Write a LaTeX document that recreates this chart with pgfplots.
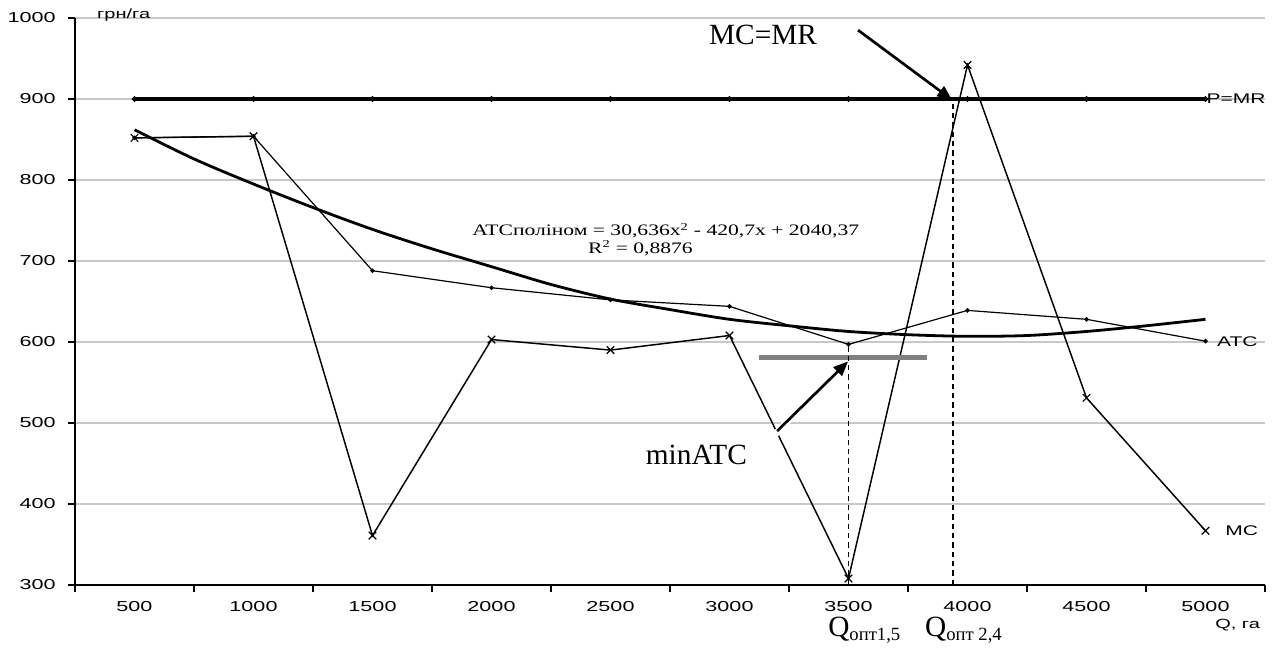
\documentclass[border=0pt]{standalone}
\usepackage{pgfplots}
\pgfplotsset{compat=1.18}
\usepackage{fontspec}
\setmainfont{Liberation Serif}
\newfontfamily\xlfont[FakeStretch=1.5]{Liberation Sans}
\newfontfamily\eqfont[FakeStretch=1.35]{Liberation Serif}
\usetikzlibrary{arrows.meta}

\definecolor{gridgray}{HTML}{C8C8C8}
\definecolor{bargray}{HTML}{808080}

% 1 px of the reference = 0.75pt
\begin{document}
\begin{tikzpicture}
\begin{axis}[
    scale only axis,
    width=892.5pt, height=425.25pt,
    xmin=250, xmax=5250,
    ymin=300, ymax=1000,
    axis x line*=bottom,
    axis y line*=left,
    axis line style={line width=1.4pt},
    xtick={250,750,...,5250},
    xticklabels={500,1000,1500,2000,2500,3000,3500,4000,4500,5000},
    x tick label as interval,
    ytick={300,400,...,1000},
    tick align=outside,
    major tick length=5pt,
    tick style={black, line width=1.2pt},
    ymajorgrids,
    grid style={gridgray, line width=1pt},
    tick label style={font=\xlfont\fontsize{10.8pt}{12pt}\selectfont},
    y tick label style={xshift=-6pt},
    x tick label style={yshift=-4pt},
    /pgf/number format/assume math mode=true,
    /pgf/number format/1000 sep={},
    clip=false,
]
% P=MR
\addplot[black, line width=2.4pt, mark=*, mark size=0.6pt]
    coordinates {(500,900)(1000,900)(1500,900)(2000,900)(2500,900)
                 (3000,900)(3500,900)(4000,900)(4500,900)(5000,900)};
% ATC
\addplot[black, line width=0.9pt, mark=*, mark size=1.2pt]
    coordinates {(500,852)(1000,854)(1500,688)(2000,667)(2500,652)
                 (3000,644)(3500,597)(4000,639)(4500,628)(5000,601)};
% MC
\addplot[black, line width=1.1pt, mark=x, mark size=4pt, mark options={line width=0.9pt}]
    coordinates {(500,852)(1000,854)(1500,361)(2000,603)(2500,590)
                 (3000,608)(3500,308)(4000,942)(4500,531)(5000,367)};
% ATC polynomial trend
\addplot[black, line width=2.1pt, smooth]
    coordinates {(500,862)(750,826)(1000,795)(1250,766)(1500,739)(1750,715)
                 (2000,693)(2250,671)(2500,653)(2750,640)(3000,628)(3250,620)
                 (3500,613)(3750,609)(4000,607)(4250,608)(4500,613)(4750,620)(5000,628)};
% min ATC bar and dashed guides
\addplot[bargray, line width=3.8pt] coordinates {(3124,581)(3830,581)};
\addplot[black, line width=1.2pt, dash pattern=on 4pt off 3pt] coordinates {(3500,300)(3500,597)};
\addplot[black, line width=1.2pt, dash pattern=on 4pt off 3pt] coordinates {(3939,300)(3939,900)};

% arrows
\draw[white, line width=5pt] (axis cs:3180,482) -- (axis cs:3260,508);
\draw[black, line width=2pt, -{Triangle[length=11pt, width=9pt]}] (axis cs:3540,985) -- (axis cs:3935,899);
\draw[black, line width=2pt, -{Triangle[length=11pt, width=9pt]}] (axis cs:3200,490) -- (axis cs:3498,576);

% labels
\node[anchor=base, font=\fontsize{22pt}{24pt}\selectfont, inner sep=0pt] at (axis cs:3141,967) {MC=MR};
\node[anchor=base, font=\fontsize{22pt}{24pt}\selectfont, inner sep=0pt] at (axis cs:2861,449) {minATC};
\node[anchor=base west, font=\eqfont\fontsize{12pt}{14pt}\selectfont, inner sep=0pt] at (axis cs:1918,731)
    {ATCполіном = 30,636x\textsuperscript{2} - 420,7x + 2040,37};
\node[anchor=base west, font=\eqfont\fontsize{12pt}{14pt}\selectfont, inner sep=0pt] at (axis cs:2405,709)
    {R\textsuperscript{2} = 0,8876};
\node[anchor=base west, font=\fontsize{22pt}{24pt}\selectfont, inner sep=0pt] at (axis cs:3414,237)
    {Q{\fontsize{14pt}{16pt}\selectfont\raisebox{-3pt}{опт1,5}}};
\node[anchor=base west, font=\fontsize{22pt}{24pt}\selectfont, inner sep=0pt] at (axis cs:3821,237)
    {Q{\fontsize{14pt}{16pt}\selectfont\raisebox{-3pt}{опт 2,4}}};
\node[anchor=west, font=\xlfont\fontsize{10.5pt}{12pt}\selectfont, inner sep=0pt] at (axis cs:5004,900) {P=MR};
\node[anchor=west, font=\xlfont\fontsize{10.5pt}{12pt}\selectfont, inner sep=0pt] at (axis cs:5048,600) {ATC};
\node[anchor=west, font=\xlfont\fontsize{10.5pt}{12pt}\selectfont, inner sep=0pt] at (axis cs:5082,367) {MC};
\node[anchor=west, font=\xlfont\fontsize{10pt}{12pt}\selectfont, inner sep=0pt] at (axis cs:342,1004) {грн/га};
\node[anchor=east, font=\xlfont\fontsize{10pt}{12pt}\selectfont, inner sep=0pt] at (axis cs:5230,250) {Q, га};
\end{axis}
\pgfresetboundingbox
\path[use as bounding box] (-56.25pt,-55.5pt) rectangle (899.25pt,438.75pt);
\end{tikzpicture}
\end{document}
